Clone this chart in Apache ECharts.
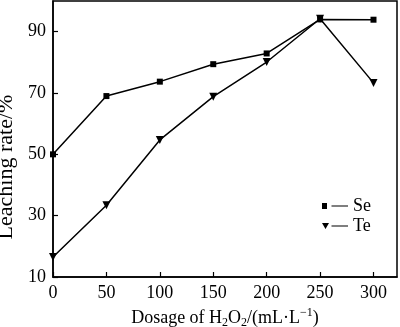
<!DOCTYPE html>
<html><head><meta charset="utf-8">
<script src="https://cdn.jsdelivr.net/npm/echarts@6/dist/echarts.min.js"></script>
<style>html,body{margin:0;padding:0;background:#fff}#c{width:400px;height:327px}</style>
</head><body><div id="c"></div>
<script>
const dosage = [0, 50, 100, 150, 200, 250, 300];
const seValues = [50.0, 69.0, 73.7, 79.4, 82.9, 94.0, 93.9];
const teValues = [16.5, 33.4, 54.7, 68.8, 80.1, 94.2, 73.3];
const xTicks = [0, 50, 100, 150, 200, 250, 300];
const yTicks = [10, 30, 50, 70, 90];
const seriesNames = ['Se', 'Te'];

const font = 'Liberation Serif';
const chart = echarts.init(document.getElementById('c'));
const toPairs = v => dosage.map((d, i) => [d, v[i]]);
chart.setOption({
  animation: false,
  grid: {left: 53, right: 3, top: 1, bottom: 50, show: true, borderColor: '#000', borderWidth: 1.5,
         containLabel: false, outerBoundsMode: 'none'},
  xAxis: {
    type: 'value', min: 0, max: 322,
    axisLine: {show: true, lineStyle: {color: '#000', width: 1.5}},
    axisTick: {show: true, inside: true, length: 5, lineStyle: {color: '#000', width: 1.2}, customValues: xTicks},
    axisLabel: {color: '#000', fontFamily: font, fontSize: 18, margin: 7, customValues: xTicks},
    splitLine: {show: false},
    name: '{n|Dosage of H}{sub|2}{n|O}{sub|2}{n|/(mL·L}{sup|−1}{n|)}',
    nameLocation: 'middle', nameGap: 28,
    nameTextStyle: {
      color: '#000', fontFamily: font, fontSize: 18, lineHeight: 22,
      rich: {
        n: {fontFamily: font, fontSize: 18, lineHeight: 22, color: '#000', verticalAlign: 'middle'},
        sub: {fontFamily: font, fontSize: 12, lineHeight: 12, color: '#000', verticalAlign: 'bottom'},
        sup: {fontFamily: font, fontSize: 12, lineHeight: 12, color: '#000', verticalAlign: 'top'}
      }
    }
  },
  yAxis: {
    type: 'value', min: 10, max: 100,
    axisLine: {show: true, lineStyle: {color: '#000', width: 1.5}},
    axisTick: {show: true, inside: true, length: 5, lineStyle: {color: '#000', width: 1.2}, customValues: yTicks},
    axisLabel: {color: '#000', fontFamily: font, fontSize: 18, margin: 7, customValues: yTicks},
    splitLine: {show: false},
    name: 'Leaching rate/%', nameLocation: 'middle', nameGap: 31,
    nameTextStyle: {color: '#000', fontFamily: font, fontSize: 22, padding: [0, 56, 0, 0]}
  },
  legend: {
    orient: 'vertical', left: 322, top: 197, padding: 0,
    itemWidth: 26, itemHeight: 6, itemGap: 2,
    textStyle: {color: '#000', fontFamily: font, fontSize: 18, lineHeight: 17},
    data: [
      {name: seriesNames[0], icon: 'path://M0,0h5v6h-5z M9.5,2.4h16.5v1.2h-16.5z'},
      {name: seriesNames[1], icon: 'path://M0,0h7l-3.5,6z M9.5,2.4h16.5v1.2h-16.5z'}
    ]
  },
  series: [
    {name: seriesNames[0], type: 'line', data: toPairs(seValues), symbol: 'rect', symbolSize: 6,
     itemStyle: {color: '#000'}, lineStyle: {color: '#000', width: 1.5}},
    {name: seriesNames[1], type: 'line', data: toPairs(teValues), symbol: 'triangle', symbolRotate: 180, symbolSize: 8,
     itemStyle: {color: '#000'}, lineStyle: {color: '#000', width: 1.5}}
  ]
});
</script></body></html>
